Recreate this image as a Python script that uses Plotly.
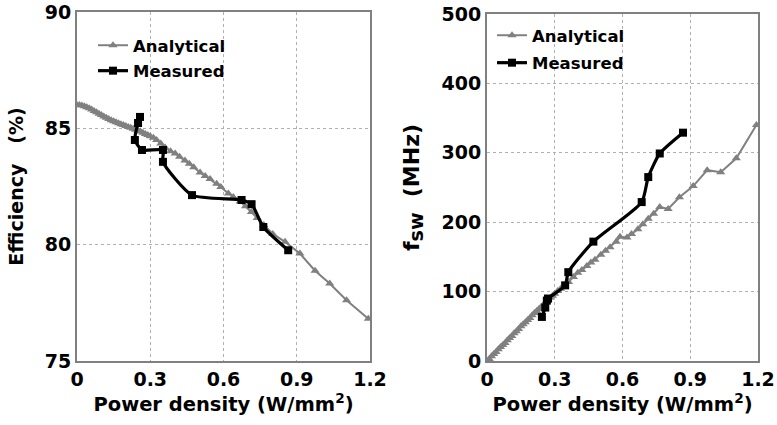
import plotly.graph_objects as go

# Analytical model (shared power density axis)
ana_power = [0, 0.01, 0.02, 0.03, 0.04, 0.05, 0.06, 0.07, 0.08, 0.09, 0.10, 0.11, 0.12, 0.13,
             0.14, 0.15, 0.16, 0.17, 0.18, 0.19, 0.20, 0.21, 0.22, 0.23, 0.24, 0.25, 0.26, 0.27,
             0.28, 0.29, 0.30, 0.313, 0.326, 0.343, 0.361, 0.383, 0.402, 0.42, 0.442, 0.46, 0.478,
             0.504, 0.525, 0.545, 0.572, 0.589, 0.62, 0.64, 0.668, 0.69, 0.714, 0.738, 0.765,
             0.802, 0.852, 0.913, 0.975, 1.035, 1.104, 1.193]
ana_eff = [86.00, 86.00, 85.98, 85.95, 85.91, 85.86, 85.81, 85.75, 85.69, 85.63, 85.57, 85.51,
           85.45, 85.40, 85.35, 85.30, 85.26, 85.22, 85.18, 85.14, 85.10, 85.06, 85.02, 84.98,
           84.94, 84.90, 84.86, 84.81, 84.76, 84.71, 84.66, 84.59, 84.50, 84.35, 84.18, 84.02,
           83.92, 83.78, 83.62, 83.48, 83.33, 83.10, 82.95, 82.82, 82.62, 82.48, 82.20, 82.05,
           81.86, 81.65, 81.40, 81.15, 80.84, 80.46, 80.12, 79.62, 78.88, 78.33, 77.61, 76.82]
ana_fsw = [0, 3, 7, 10, 13, 17, 20, 23, 26, 30, 33, 36, 40, 43, 46, 50, 53, 56, 59, 62, 66, 69,
           72, 75, 78, 81, 85, 88, 91, 94, 97, 101, 104, 108, 114, 121, 127, 131, 137, 142, 146,
           153, 159, 164, 172, 179, 178, 183, 190, 197, 205, 212, 222, 219, 236, 252, 275, 272,
           292, 340]

# Measured
meas_power_eff = [0.258, 0.250, 0.237, 0.266, 0.352, 0.352, 0.471, 0.674, 0.715, 0.763, 0.865]
meas_eff = [85.49, 85.23, 84.50, 84.07, 84.07, 83.56, 82.13, 81.92, 81.74, 80.76, 79.76]
meas_power_fsw = [0.243, 0.258, 0.265, 0.270, 0.346, 0.360, 0.471, 0.685, 0.714, 0.765, 0.868]
meas_fsw = [63.5, 77, 87, 90, 109, 128, 172, 229, 265, 299, 329]

x_ticks = [0, 0.3, 0.6, 0.9, 1.2]
x_ticklabels = ["0", "0.3", "0.6", "0.9", "1.2"]
eff_ticks = [75, 80, 85, 90]
fsw_ticks = [0, 100, 200, 300, 400, 500]

GRAY = "#808080"
FONT = "DejaVu Sans"
tick_font = dict(family=FONT, size=19, color="black", weight="bold")
xtitle_font = dict(family=FONT, size=19.5, color="black", weight="bold")
ytitle_font = dict(family=FONT, size=19, color="black", weight="bold")
legend_font = dict(family=FONT, size=16.5, color="black", weight="bold")

fig = go.Figure()

ana_style = dict(mode="lines+markers", line=dict(color=GRAY, width=2),
                 marker=dict(symbol="triangle-up", size=8, color=GRAY))
meas_style = dict(mode="lines+markers", line=dict(color="black", width=3.2, shape="spline", smoothing=0.6),
                  marker=dict(symbol="square", size=8, color="black"))

fig.add_trace(go.Scatter(x=ana_power, y=ana_eff, name="Analytical", xaxis="x", yaxis="y",
                         legend="legend", legendgroup="a1", **ana_style))
fig.add_trace(go.Scatter(x=meas_power_eff, y=meas_eff, name="Measured", xaxis="x", yaxis="y",
                         legend="legend", legendgroup="m1", **meas_style))
fig.add_trace(go.Scatter(x=ana_power, y=ana_fsw, name="Analytical", xaxis="x2", yaxis="y2",
                         legend="legend2", legendgroup="a2", **ana_style))
fig.add_trace(go.Scatter(x=meas_power_fsw, y=meas_fsw, name="Measured", xaxis="x2", yaxis="y2",
                         legend="legend2", legendgroup="m2", **meas_style))

axis_common = dict(showline=True, linecolor=GRAY, linewidth=2, mirror=True, ticks="",
                   showgrid=True, gridcolor="#b0b0b0", griddash="dot", gridwidth=1,
                   zeroline=False, tickfont=tick_font, automargin=False,
                   ticklabeloverflow="allow")

xtitle = dict(text="Power density (W/mm<sup>2</sup>)", font=xtitle_font, standoff=4)

NB = "\u00a0"
fsw_title = ("f<sub><span style='font-size:19px'>sw</span></sub>" + NB * 2 + "(MHz)" + NB * 3)

W, H = 777, 425
L, R, T, B = 77, 19, 12, 64
PW = W - L - R
PH = H - T - B

fig.update_layout(
    width=W, height=H,
    margin=dict(l=L, r=R, t=T, b=B),
    paper_bgcolor="white", plot_bgcolor="white",
    xaxis=dict(domain=[0, 293 / PW], range=[0, 1.2], tickvals=x_ticks, ticktext=x_ticklabels,
               anchor="y", title=xtitle, **axis_common),
    yaxis=dict(domain=[0, 1], range=[75, 90], tickvals=eff_ticks, anchor="x",
               title=dict(text="Efficiency" + NB * 3 + "(%)", font=ytitle_font, standoff=16),
               **axis_common),
    xaxis2=dict(domain=[410 / PW, 1], range=[0, 1.2], tickvals=x_ticks, ticktext=x_ticklabels,
                anchor="y2", title=xtitle, **axis_common),
    yaxis2=dict(domain=[0, (PH - 2) / PH], range=[0, 500], tickvals=fsw_ticks, anchor="x2",
                title=dict(text=fsw_title, font=dict(family=FONT, size=22, color="black",
                           weight="bold"), standoff=16), **axis_common),
    legend=dict(x=16 / PW, y=1 - 16 / PH, xanchor="left", yanchor="top",
                bgcolor="rgba(0,0,0,0)", font=legend_font, itemwidth=30, tracegroupgap=1),
    legend2=dict(x=415 / PW, y=1 - 6 / PH, xanchor="left", yanchor="top",
                 bgcolor="rgba(0,0,0,0)", font=legend_font, itemwidth=30, tracegroupgap=3),
    showlegend=True,
)

# remove the browser's default 8px body margin so the figure sits at the page origin
fig.write_html("out.html", config={"displayModeBar": False},
               post_script="document.body.style.margin='0px';")
